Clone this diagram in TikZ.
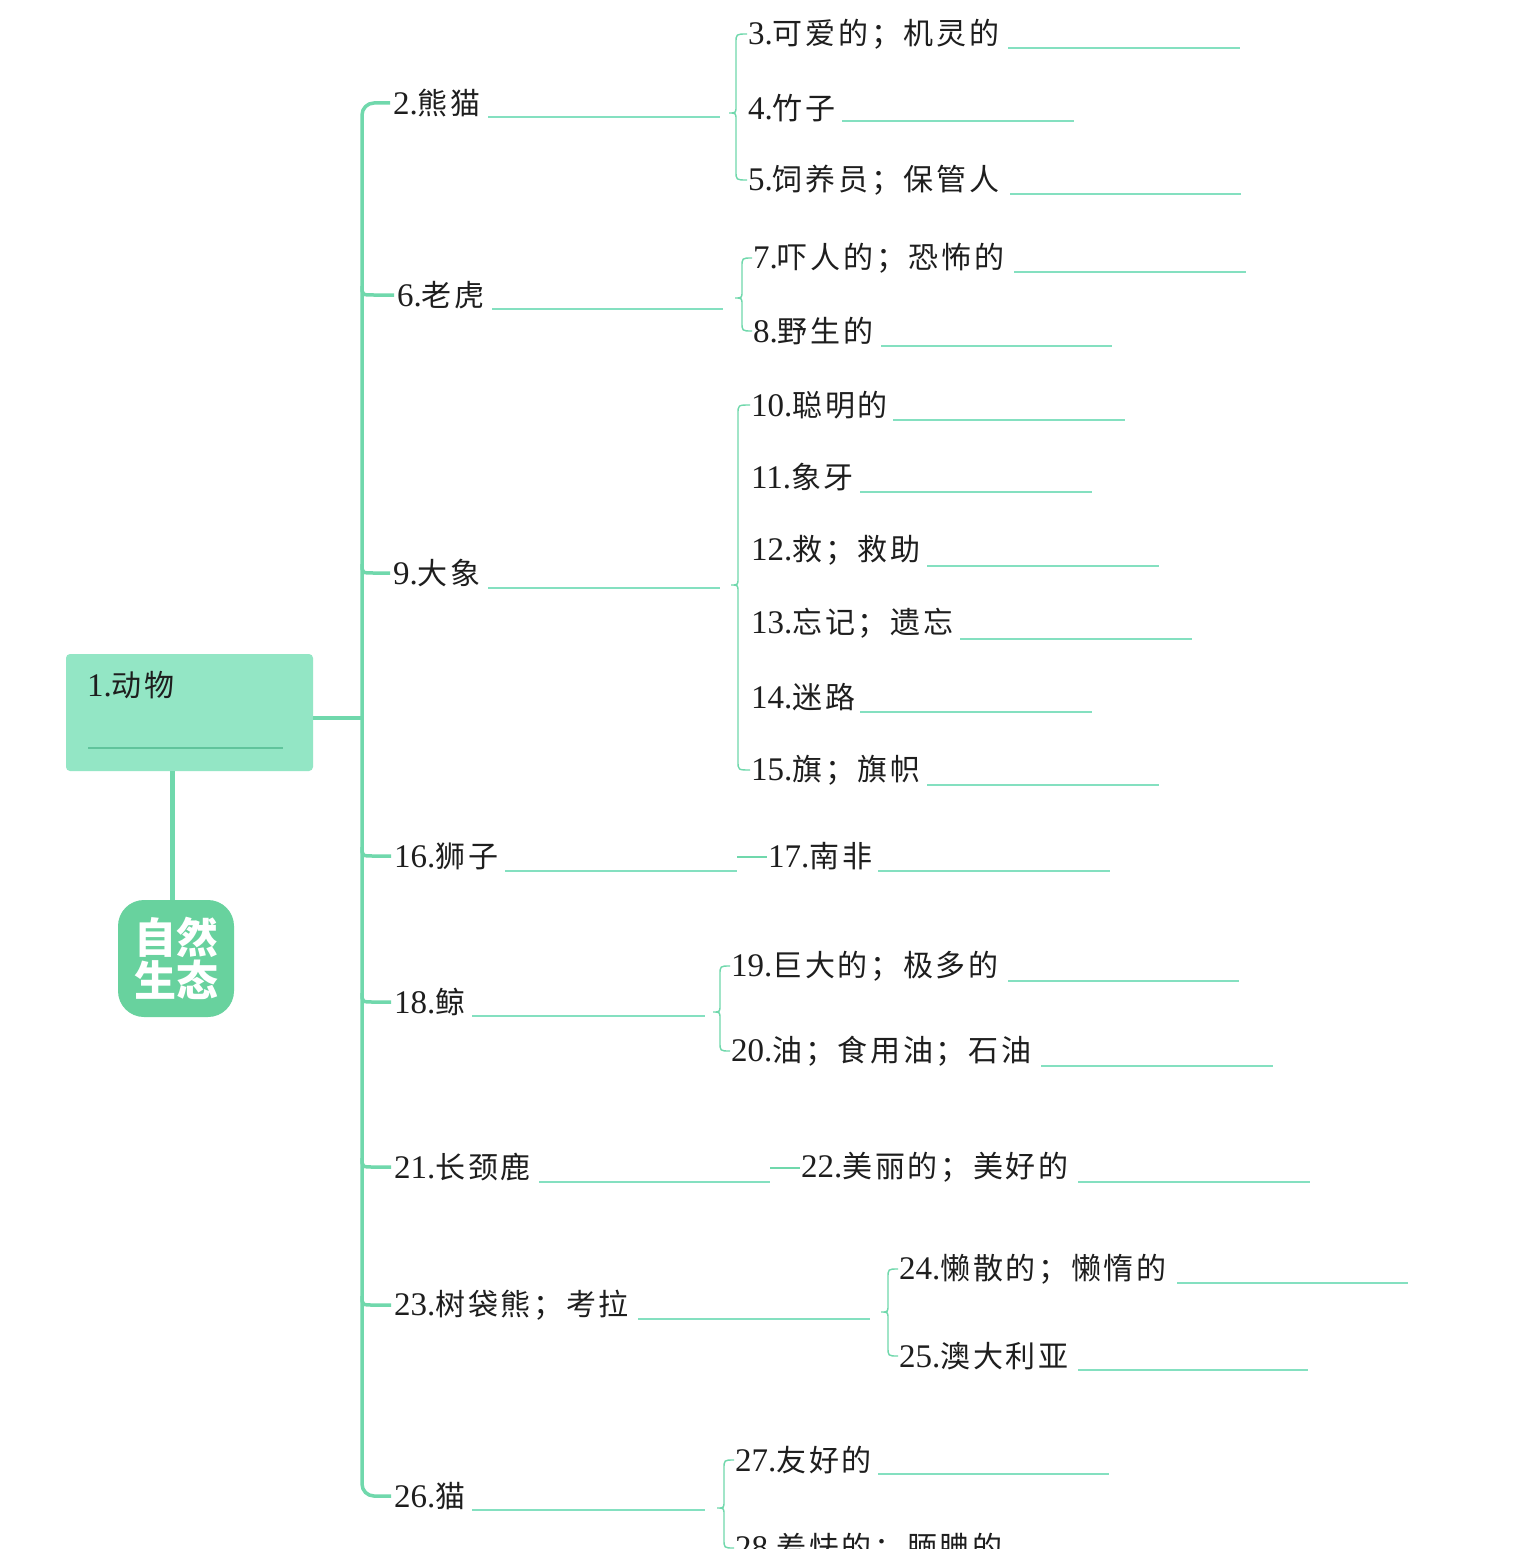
\documentclass[tikz,border=0pt]{standalone}
\usepackage{fontspec}
\setmainfont{Liberation Serif}
\newfontfamily\cjk[LetterSpace=9]{Noto Sans CJK SC}
\newfontfamily\cjkbold{Noto Sans CJK SC}
\definecolor{lg}{RGB}{112,216,172}
\definecolor{boxf}{RGB}{147,230,197}
\definecolor{badgef}{RGB}{104,210,158}
\definecolor{ulc}{RGB}{132,224,192}
\definecolor{boxul}{RGB}{96,196,156}
\definecolor{txt}{RGB}{30,30,30}
\newcommand\lb[2]{{\fontsize{33}{34}\selectfont #1}{\cjk\fontsize{30}{34}\selectfont #2}}
\newcommand\mybrace[6]{%
\draw[brc] ([xshift=-1pt]#1.west) .. controls (#3,#4) .. (#3,#4+9) -- (#3,#6-7) .. controls (#3,#6) .. (#3-7,#6) .. controls (#3,#6) .. (#3,#6+7) -- (#3,#5-9) .. controls (#3,#5) .. ([xshift=-1pt]#2.west);}
\newcommand\hook[2]{\draw[trunk] (362,#2-9) .. controls (362,#2) .. (374,#2) -- ([xshift=-3pt]#1.west);}
\tikzset{
  lab/.style={anchor=west, inner sep=0pt, text=txt},
  trunk/.style={draw=lg, line width=3.5pt},
  brc/.style={draw=lg, line width=1.4pt},
  uline/.style={draw=ulc, line width=1.3pt},
  rootbox/.style={fill=boxf, rounded corners=4pt, minimum width=247pt, minimum height=117pt, inner sep=0pt},
  badge/.style={fill=badgef, rounded corners=26pt, minimum width=116pt, minimum height=117pt, inner sep=0pt, text=white, align=center, font=\cjkbold\bfseries\fontsize{42}{44}\selectfont},
}
\begin{document}
\begin{tikzpicture}[x=1pt,y=-1pt]
\useasboundingbox[fill=white] (0,0) rectangle (1531,1549);
\begin{scope}
\clip (0,0) rectangle (1531,1549);
% root
\node[rootbox] (root) at (189.5,712.5) {};
\node[lab] (t1) at (87,685) {\lb{1.}{动物}};
\draw[draw=boxul, line width=1.2pt] (88,748) -- (283,748);
\node[badge] (badge) at (176,958.5) {自然\\[-1pt]生态};
\draw[draw=lg, line width=5pt] (root.south -| 172,0) -- (badge.north -| 172,0);
\draw[trunk] (root.east |- 0,718) -- (362,718);
% level 2
\node[lab] (n2) at (393,103) {\lb{2.}{熊猫}};
\node[lab] (n6) at (397,295) {\lb{6.}{老虎}};
\node[lab] (n9) at (393,573) {\lb{9.}{大象}};
\node[lab] (n16) at (394,856) {\lb{16.}{狮子}};
\node[lab] (n18) at (394,1002) {\lb{18.}{鲸}};
\node[lab] (n21) at (394,1167) {\lb{21.}{长颈鹿}};
\node[lab] (n23) at (394,1305) {\lb{23.}{树袋熊；考拉}};
\node[lab] (n26) at (394,1496) {\lb{26.}{猫}};
\draw[uline] (488,117) -- (720,117);
\draw[uline] (492,309) -- (723,309);
\draw[uline] (488,588) -- (720,588);
\draw[uline] (505,871) -- (737,871);
\draw[uline] (472,1016) -- (705,1016);
\draw[uline] (539,1182) -- (770,1182);
\draw[uline] (638,1319) -- (870,1319);
\draw[uline] (472,1510) -- (705,1510);
% trunk
\draw[trunk, rounded corners=12pt] ([xshift=-3pt]n2.west) -| (362,1496) -- ([xshift=-3pt]n26.west);
\hook{n6}{295}
\hook{n9}{573}
\hook{n16}{856}
\hook{n18}{1002}
\hook{n21}{1167}
\hook{n23}{1305}
% group 2
\node[lab] (n3) at (748,34) {\lb{3.}{可爱的；机灵的}};
\node[lab] (n4) at (748,108) {\lb{4.}{竹子}};
\node[lab] (n5) at (748,180) {\lb{5.}{饲养员；保管人}};
\draw[uline] (1008,48) -- (1240,48);
\draw[uline] (842,121) -- (1074,121);
\draw[uline] (1010,194) -- (1241,194);
\mybrace{n3}{n5}{736}{34}{180}{113}
% group 6
\node[lab] (n7) at (753,258) {\lb{7.}{吓人的；恐怖的}};
\node[lab] (n8) at (753,331) {\lb{8.}{野生的}};
\draw[uline] (1014,272) -- (1246,272);
\draw[uline] (881,346) -- (1112,346);
\mybrace{n7}{n8}{742}{258}{331}{298}
% group 9
\node[lab] (n10) at (751,405) {\lb{10.}{聪明的}};
\node[lab] (n11) at (751,477) {\lb{11.}{象牙}};
\node[lab] (n12) at (751,550) {\lb{12.}{救；救助}};
\node[lab] (n13) at (751,623) {\lb{13.}{忘记；遗忘}};
\node[lab] (n14) at (751,697) {\lb{14.}{迷路}};
\node[lab] (n15) at (751,770) {\lb{15.}{旗；旗帜}};
\draw[uline] (893,420) -- (1125,420);
\draw[uline] (860,492) -- (1092,492);
\draw[uline] (927,566) -- (1159,566);
\draw[uline] (960,639) -- (1192,639);
\draw[uline] (860,712) -- (1092,712);
\draw[uline] (927,785) -- (1159,785);
\mybrace{n10}{n15}{738}{405}{770}{585}
% group 16
\node[lab] (n17) at (768,856) {\lb{17.}{南非}};
\coordinate (d16) at (737,857);
\draw[brc] (d16) -- ([xshift=-1pt]n17.west |- d16);
\draw[uline] (878,871) -- (1110,871);
% group 18
\node[lab] (n19) at (731,966) {\lb{19.}{巨大的；极多的}};
\node[lab] (n20) at (731,1051) {\lb{20.}{油；食用油；石油}};
\draw[uline] (1008,981) -- (1239,981);
\draw[uline] (1041,1066) -- (1273,1066);
\mybrace{n19}{n20}{720}{966}{1051}{1012}
% group 21
\node[lab] (n22) at (801,1167) {\lb{22.}{美丽的；美好的}};
\coordinate (d21) at (770,1168);
\draw[brc] (d21) -- ([xshift=-1pt]n22.west |- d21);
\draw[uline] (1078,1182) -- (1310,1182);
% group 23
\node[lab] (n24) at (899,1269) {\lb{24.}{懒散的；懒惰的}};
\node[lab] (n25) at (899,1356) {\lb{25.}{澳大利亚}};
\draw[uline] (1177,1283) -- (1408,1283);
\draw[uline] (1078,1370) -- (1308,1370);
\mybrace{n24}{n25}{888}{1269}{1356}{1312}
% group 26
\node[lab] (n27) at (735,1460) {\lb{27.}{友好的}};
\node[lab] (n28) at (735,1548) {\lb{28.}{羞怯的；腼腆的}};
\draw[uline] (878,1474) -- (1109,1474);
\mybrace{n27}{n28}{724}{1460}{1548}{1508}
\end{scope}
\end{tikzpicture}
\end{document}
